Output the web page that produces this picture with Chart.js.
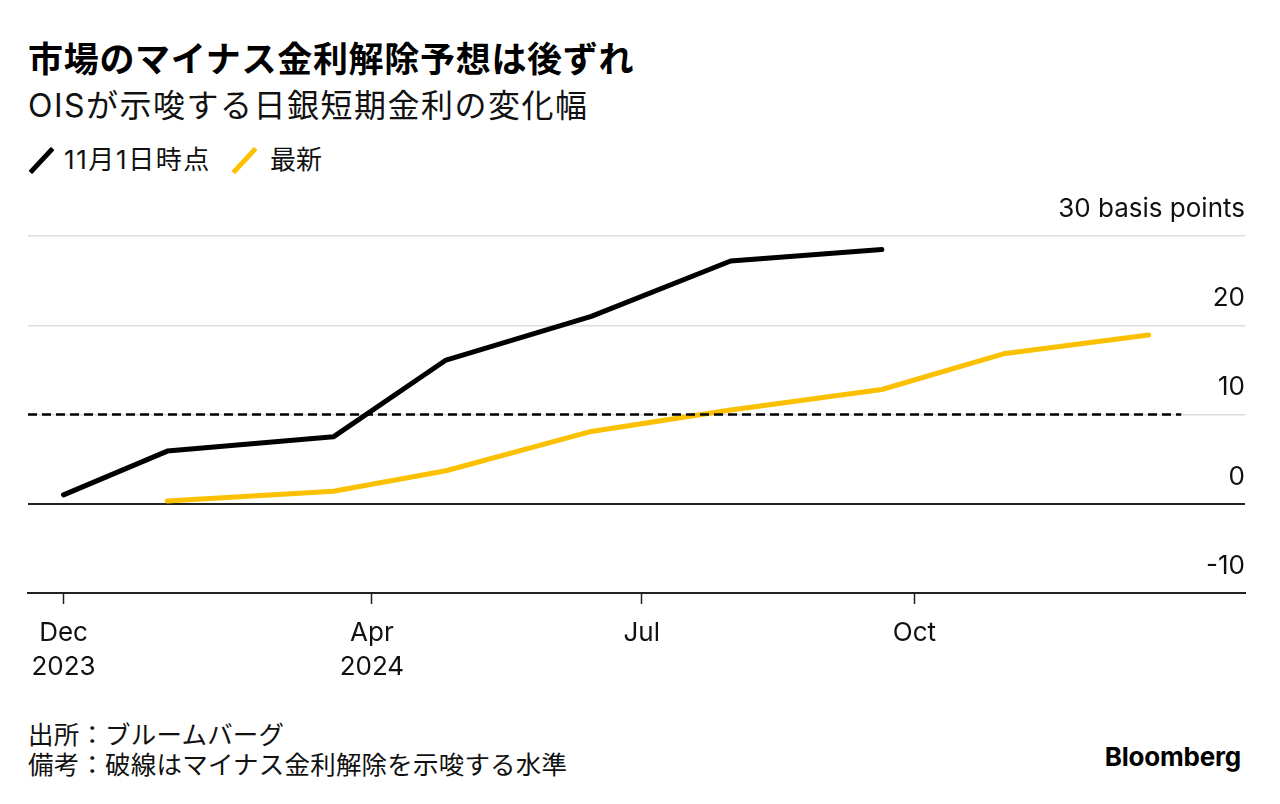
<!DOCTYPE html>
<html>
<head>
<meta charset="utf-8">
<script src="https://cdn.jsdelivr.net/npm/chart.js@4"></script>
<style>
  html, body { margin:0; padding:0; background:#fff; }
  body { width:1280px; height:804px; position:relative; overflow:hidden;
         font-family: Inter, "Noto Sans CJK JP", sans-serif; color:#111; }
  .t { position:absolute; white-space:nowrap; line-height:1; }
  #title { left:28px; top:42px; font-size:35px; font-weight:700; color:#000; letter-spacing:0.7px; }
  #sub { left:28px; top:90px; font-size:32px; font-weight:400; letter-spacing:1.5px; }
  .leg { top:147px; font-size:26px; }
  .mark { position:absolute; width:5px; height:33px; transform:rotate(43deg); border-radius:1px; }
  #foot { left:28px; top:720px; font-size:25.5px; line-height:30px; letter-spacing:0.2px; }
  #logo { right:39px; top:744px; font-size:26px; font-weight:700; color:#000; letter-spacing:-0.2px; }
  #chartWrap { position:absolute; left:0; top:180px; width:1280px; height:500px; }
</style>
</head>
<body>
<div id="title" class="t">市場のマイナス金利解除予想は後ずれ</div>
<div id="sub" class="t">OISが示唆する日銀短期金利の変化幅</div>
<div class="mark" style="left:39px; top:144px; background:#000;"></div>
<div class="t leg" style="left:64px; letter-spacing:1.6px;">11月1日時点</div>
<div class="mark" style="left:242px; top:144px; background:#fbc000;"></div>
<div class="t leg" style="left:270px;">最新</div>
<div id="foot" class="t">出所：ブルームバーグ<br>備考：破線はマイナス金利解除を示唆する水準</div>
<div id="logo" class="t">Bloomberg</div>
<div id="chartWrap"><canvas id="c" width="1280" height="500"></canvas></div>
<script>
// ---- data ----
const meetingDates = ['2023-12-19','2024-01-23','2024-03-19','2024-04-26','2024-06-14','2024-07-31','2024-09-20','2024-10-31','2024-12-19'];
const asOfNov1 = [1.0, 5.9, 7.5, 16.1, 21.0, 27.2, 28.5, null, null];
const latest   = [null, 0.3, 1.4, 3.7, 8.1, 10.5, 12.8, 16.8, 18.9];
const thresholdLevel = 10;
const thresholdDates = ['2023-12-07', '2024-12-30'];
const xTickDates = ['2023-12-19','2024-04-01','2024-07-01','2024-10-01'];
const xTickLabels = [['Dec','2023'],['Apr','2024'],'Jul','Oct'];
const yTickValues = [-10, 0, 10, 20, 30];
const yUnit = 'basis points';
const seriesNames = ['11月1日時点', '最新'];

const d = s => Date.parse(s);
const toPts = arr => meetingDates.map((s, i) => ({x: d(s), y: arr[i]}));

const FONT = 'Inter, "Noto Sans CJK JP", sans-serif';

new Chart(document.getElementById('c'), {
  type: 'line',
  data: {
    datasets: [
      {
        label: 'threshold',
        data: thresholdDates.map(s => ({x: d(s), y: thresholdLevel})),
        borderColor: '#000', borderWidth: 2.7, borderDash: [9, 5],
        pointRadius: 0, order: 0, borderCapStyle: 'butt'
      },
      {
        label: seriesNames[0], data: toPts(asOfNov1),
        borderColor: '#000', borderWidth: 5, pointRadius: 0, order: 1,
        borderCapStyle: 'round', borderJoinStyle: 'round', spanGaps: false
      },
      {
        label: seriesNames[1], data: toPts(latest),
        borderColor: '#fbc000', borderWidth: 5, pointRadius: 0, order: 2,
        borderCapStyle: 'round', borderJoinStyle: 'round', spanGaps: false
      }
    ]
  },
  options: {
    responsive: false, animation: false, devicePixelRatio: 1,
    layout: { padding: { top: 56, left: 28, right: 35, bottom: 0 } },
    plugins: { legend: { display: false }, tooltip: { enabled: false } },
    scales: {
      x: {
        type: 'linear',
        min: d('2023-12-07'), max: d('2025-01-20') + 43200000,
        afterBuildTicks: s => { s.ticks = xTickDates.map(t => ({value: d(t)})); },
        afterFit: s => { s.height = 87; },
        grid: { display: true, drawOnChartArea: false, drawTicks: true, tickLength: 11, tickColor: '#222', tickWidth: 1.5 },
        border: { display: true, color: '#222', width: 2 },
        ticks: {
          autoSkip: false, maxRotation: 0, padding: 12, color: '#111',
          font: { family: FONT, size: 26, lineHeight: 1.3 },
          callback: (v, i) => xTickLabels[i]
        }
      },
      y: {
        position: 'right',
        min: -10, max: 30,
        afterBuildTicks: s => { s.ticks = yTickValues.map(v => ({value: v})); },
        afterFit: s => { s.width = 0; },
        border: { display: false },
        grid: {
          drawTicks: false,
          color: c => (c.tick && (c.tick.value === 0 || c.tick.value === -10)) ? '#222' : '#dcdcdc',
          lineWidth: c => (c.tick && (c.tick.value === 0 || c.tick.value === -10)) ? 2 : 1.5
        },
        ticks: {
          mirror: true, padding: 0, labelOffset: -27, color: '#111',
          font: { family: FONT, size: 26 },
          callback: v => v === 30 ? '30 ' + yUnit : String(v)
        }
      }
    }
  }
});
</script>
</body>
</html>
